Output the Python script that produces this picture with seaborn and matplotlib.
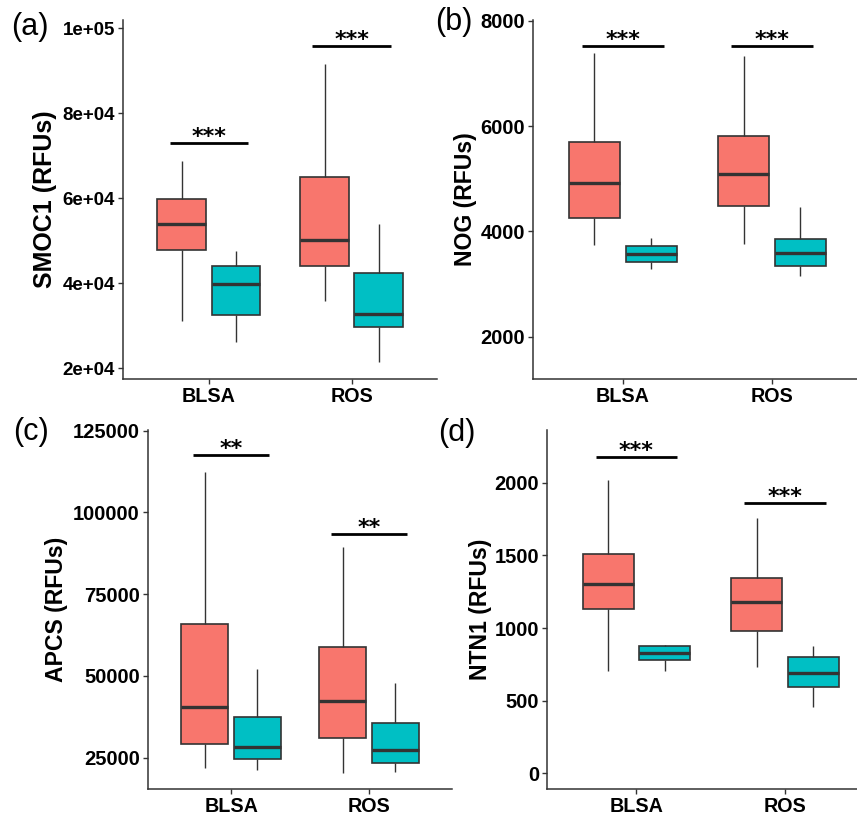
import numpy as np
import pandas as pd
import matplotlib
matplotlib.use("Agg")
import matplotlib.pyplot as plt
import seaborn as sns

# ---------------- data (min, Q1, median, Q3, max) ----------------
cohorts = ["BLSA", "ROS"]
groups = ["Group A", "Group B"]
palette = ["#F8766D", "#00BFC4"]

smoc1_blsa_a = [31100, 47900, 53900, 59800, 68800]
smoc1_blsa_b = [26200, 32600, 39900, 44000, 47500]
smoc1_ros_a = [35800, 44100, 50100, 64900, 91500]
smoc1_ros_b = [21400, 29700, 32800, 42500, 53900]
smoc1_sig_y = [73100, 95800]
smoc1_sig = ["***", "***"]
smoc1_ticks = [20000, 40000, 60000, 80000, 100000]
smoc1_ticklabels = ["2e+04", "4e+04", "6e+04", "8e+04", "1e+05"]

nog_blsa_a = [3742, 4249, 4914, 5692, 7383]
nog_blsa_b = [3286, 3425, 3576, 3717, 3869]
nog_ros_a = [3761, 4482, 5090, 5812, 7337]
nog_ros_b = [3153, 3349, 3595, 3856, 4463]
nog_sig_y = [7521, 7521]
nog_sig = ["***", "***"]
nog_ticks = [2000, 4000, 6000, 8000]
nog_ticklabels = ["2000", "4000", "6000", "8000"]

apcs_blsa_a = [21940, 29190, 40600, 65980, 112460]
apcs_blsa_b = [21240, 24510, 28180, 37450, 52030]
apcs_ros_a = [20230, 31120, 42430, 58850, 89430]
apcs_ros_b = [20540, 23290, 27260, 35610, 47940]
apcs_sig_y = [117660, 93410]
apcs_sig = ["**", "**"]
apcs_ticks = [25000, 50000, 75000, 100000, 125000]
apcs_ticklabels = ["25000", "50000", "75000", "100000", "125000"]

ntn1_blsa_a = [701, 1128, 1303, 1512, 2018]
ntn1_blsa_b = [706, 781, 825, 873, 883]
ntn1_ros_a = [735, 979, 1179, 1347, 1756]
ntn1_ros_b = [457, 595, 690, 800, 878]
ntn1_sig_y = [2179, 1862]
ntn1_sig = ["***", "***"]
ntn1_ticks = [0, 500, 1000, 1500, 2000]
ntn1_ticklabels = ["0", "500", "1000", "1500", "2000"]

panel_letters = ["(a)", "(b)", "(c)", "(d)"]
ylabels = ["SMOC1 (RFUs)", "NOG (RFUs)", "APCS (RFUs)", "NTN1 (RFUs)"]

# ---------------- style ----------------
sns.set_style("ticks")
plt.rcParams["font.family"] = ["Liberation Sans", "DejaVu Sans"]

W, H = 857, 815
fig = plt.figure(figsize=(W / 100, H / 100), dpi=100)

def frame(df_vals):
    rows = []
    for cohort, gvals in zip(cohorts, df_vals):
        for g, vals in zip(groups, gvals):
            for v in vals:
                rows.append({"cohort": cohort, "group": g, "value": v})
    return pd.DataFrame(rows)

panels = [
    dict(vals=[[smoc1_blsa_a, smoc1_blsa_b], [smoc1_ros_a, smoc1_ros_b]],
         sig_y=smoc1_sig_y, sig=smoc1_sig, ticks=smoc1_ticks, tl=smoc1_ticklabels,
         ylim=(17480, 101960), rect=(123.3, 20, 437.3, 379), ytfs=13.5, ylfs=18, lx=-0.210,
         letter_xy=(11, 27)),
    dict(vals=[[nog_blsa_a, nog_blsa_b], [nog_ros_a, nog_ros_b]],
         sig_y=nog_sig_y, sig=nog_sig, ticks=nog_ticks, tl=nog_ticklabels,
         ylim=(1197, 8014), rect=(533.3, 20, 861.3, 379), ytfs=14.5, ylfs=16.6, lx=-0.172,
         letter_xy=(435, 22)),
    dict(vals=[[apcs_blsa_a, apcs_blsa_b], [apcs_ros_a, apcs_ros_b]],
         sig_y=apcs_sig_y, sig=apcs_sig, ticks=apcs_ticks, tl=apcs_ticklabels,
         ylim=(15430, 125210), rect=(148.3, 430, 451.9, 789), ytfs=14.5, ylfs=16.6, lx=-0.264,
         letter_xy=(13, 432)),
    dict(vals=[[ntn1_blsa_a, ntn1_blsa_b], [ntn1_ros_a, ntn1_ros_b]],
         sig_y=ntn1_sig_y, sig=ntn1_sig, ticks=ntn1_ticks, tl=ntn1_ticklabels,
         ylim=(-108, 2363), rect=(547.3, 430, 874.0, 789), ytfs=14.5, ylfs=16.6, lx=-0.169,
         letter_xy=(438, 433)),
]

edge = "#333333"
for i, p in enumerate(panels):
    x0, y0, x1, y1 = p["rect"]
    ax = fig.add_axes([x0 / W, 1 - y1 / H, (x1 - x0) / W, (y1 - y0) / H])
    df = frame(p["vals"])
    sns.boxplot(data=df, x="cohort", y="value", hue="group", order=cohorts,
                hue_order=groups, palette=palette, saturation=1, width=0.76, gap=0.1,
                whis=(0, 100), showcaps=False, fliersize=0, linewidth=1.2,
                linecolor=edge, medianprops=dict(linewidth=2.4, color=edge),
                whiskerprops=dict(linewidth=1.0, color=edge),
                legend=False, ax=ax)
    ax.set_xlim(-0.6, 1.6)
    ax.set_ylim(*p["ylim"])
    ax.set_yticks(p["ticks"])
    ax.set_yticklabels(p["tl"])
    ax.set_xlabel("")
    ax.set_ylabel(ylabels[i], fontsize=p["ylfs"], fontweight="bold", color="black")
    ax.yaxis.set_label_coords(p["lx"], 0.5)
    sns.despine(ax=ax)
    for s in ("left", "bottom"):
        ax.spines[s].set_linewidth(1.1)
        ax.spines[s].set_color(edge)
    ax.tick_params(axis="both", length=3.5, width=1.0, color=edge, pad=2.5)
    ax.tick_params(axis="y", labelsize=p["ytfs"])
    ax.tick_params(axis="x", labelsize=14.2, pad=2.5)
    for lab in ax.get_xticklabels() + ax.get_yticklabels():
        lab.set_fontweight("bold")
        lab.set_color("black")
    for xi, (yy, st) in enumerate(zip(p["sig_y"], p["sig"])):
        ax.plot([xi - 0.275, xi + 0.275], [yy, yy], color="black", lw=2.0,
                solid_capstyle="butt", clip_on=False)
        ax.text(xi, yy, st, ha="center", va="baseline", fontsize=16,
                fontweight="bold", family="DejaVu Sans", color="black")
    lx, ly = p["letter_xy"]
    fig.text(lx / W, 1 - ly / H, panel_letters[i], ha="left", va="center",
             fontsize=22, color="black")

fig.savefig("out.png", dpi=100)
